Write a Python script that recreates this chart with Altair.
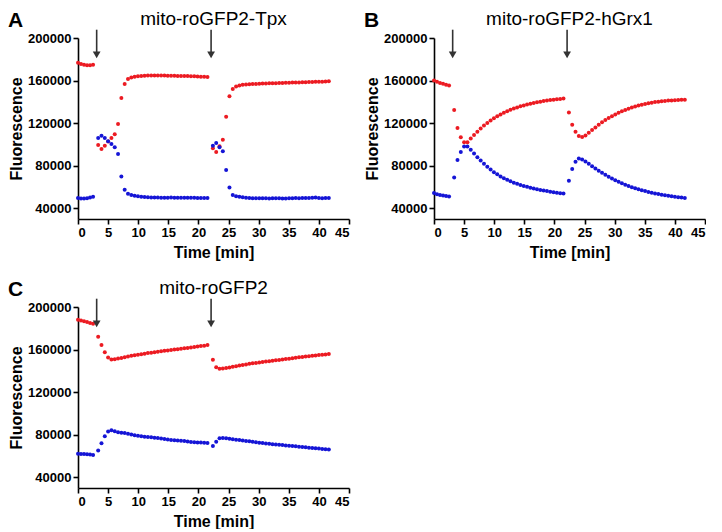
import altair as alt
import pandas as pd

# ---- sampling times (min) for the three recording segments ----
t_seg1 = [0.0, 0.5, 1.0, 1.5, 2.0, 2.5]
t_seg2 = [3.35, 3.9, 4.45, 5.0, 5.55, 6.1, 6.65, 7.2, 7.75, 8.3, 8.85, 9.4, 9.95, 10.5,
          11.05, 11.6, 12.15, 12.7, 13.25, 13.8, 14.35, 14.9, 15.45, 16.0, 16.55, 17.1,
          17.65, 18.2, 18.75, 19.3, 19.85, 20.4, 20.95, 21.5]
t_seg3 = [22.4, 22.95, 23.5, 24.05, 24.6, 25.15, 25.7, 26.25, 26.8, 27.35, 27.9, 28.45,
          29.0, 29.55, 30.1, 30.65, 31.2, 31.75, 32.3, 32.85, 33.4, 33.95, 34.5, 35.05,
          35.6, 36.15, 36.7, 37.25, 37.8, 38.35, 38.9, 39.45, 40.0, 40.55, 41.1, 41.65]
arrow_times = [3.1, 22.1]

# ---- Panel A: mito-roGFP2-Tpx ----
a_red = [176800, 175500, 174800, 174500, 174500, 174800,
         99600, 95800, 98900, 102900, 106000, 109700, 119200, 143600, 156800, 161400,
         162800, 163600, 164100, 164400, 164600, 164700, 164800, 164800, 164800, 164700,
         164700, 164600, 164600, 164500, 164400, 164400, 164300, 164200, 164100, 164000,
         163900, 163700, 163500, 163300,
         96500, 93000, 98300, 104400, 126000, 145400, 152200, 154500, 155500, 156000,
         156300, 156500, 156700, 156900, 157000, 157200, 157300, 157400, 157500, 157600,
         157700, 157800, 157900, 158000, 158100, 158200, 158300, 158400, 158500, 158600,
         158700, 158800, 158900, 159000, 159200, 159300]
a_blue = [49800, 49200, 49300, 49600, 50200, 51000,
          106000, 108200, 106000, 103000, 100400, 97300, 91100, 69900, 57500, 53600,
          52500, 51800, 51300, 51000, 50700, 50500, 50300, 50200, 50100, 50000,
          50000, 50000, 50100, 50000, 50000, 49900, 50000, 50000, 49900, 49900,
          49800, 49800, 49700, 49700,
          98900, 101300, 97500, 93600, 76000, 59700, 52600, 51400, 50800, 50400,
          50000, 49800, 49600, 49500, 49400, 49400, 49500, 49300, 49400, 49500,
          49400, 49300, 49300, 49500, 49600, 49700, 49600, 49700, 49800, 49700,
          49900, 50100, 49700, 49600, 49700, 49700]

# ---- Panel B: mito-roGFP2-hGrx1 ----
b_red = [160000, 158800, 157800, 157000, 156000, 155300,
         132400, 115400, 106700, 102000, 102000, 105500, 109000, 112000, 115000, 117800,
         120200, 122500, 124600, 126500, 128200, 129800, 131200, 132500, 133700, 134800,
         135800, 136700, 137500, 138300, 139000, 139600, 140200, 140800, 141300, 141700,
         142100, 142500, 142800, 143100,
         130000, 118500, 112000, 108000, 107000, 108500, 111000, 113500, 116000, 118500,
         120800, 122900, 124800, 126600, 128200, 129700, 131100, 132400, 133600, 134700,
         135700, 136600, 137400, 138100, 138700, 139300, 139800, 140200, 140600, 140900,
         141200, 141400, 141600, 141800, 142000, 142100]
b_blue = [54500, 53200, 52500, 52000, 51700, 51200,
          69000, 85300, 93000, 98000, 98000, 95000, 91500, 88000, 85000, 82000,
          79000, 76500, 74000, 72000, 70000, 68300, 66800, 65400, 64100, 63000,
          62000, 61100, 60200, 59400, 58700, 58000, 57300, 56700, 56200, 55700,
          55200, 54700, 54300, 53900,
          66000, 77000, 83700, 86800, 86000, 84000, 81800, 79600, 77500, 75400,
          73400, 71500, 69700, 68000, 66400, 64900, 63500, 62200, 61000, 59900,
          58900, 57900, 57000, 56200, 55400, 54700, 54000, 53400, 52800, 52300,
          51800, 51300, 50900, 50500, 50100, 49800]

# ---- Panel C: mito-roGFP2 ----
c_red = [188000, 187300, 186500, 185800, 185000, 184300,
         172000, 164300, 157400, 152500, 150800, 151000, 151600, 152200, 152800, 153500,
         154100, 154600, 155200, 155700, 156200, 156700, 157100, 157600, 158000, 158400,
         158800, 159200, 159600, 160000, 160400, 160800, 161200, 161600, 162000, 162400,
         162800, 163300, 163700, 164300,
         150500, 143500, 142000, 142200, 142700, 143200, 143800, 144400, 145000, 145600,
         146100, 146600, 147100, 147500, 147900, 148300, 148700, 149100, 149500, 149900,
         150300, 150700, 151100, 151500, 151900, 152300, 152700, 153000, 153400, 153800,
         154100, 154500, 154800, 155100, 155500, 155800]
c_blue = [62200, 62000, 61900, 61700, 61500, 61000,
          65200, 72000, 78500, 83000, 84200, 83200, 82300, 82000, 81600, 81000,
          80300, 79500, 79000, 78500, 78200, 77900, 77600, 77300, 76900, 76500,
          76000, 75500, 75100, 74900, 74700, 74400, 74100, 73700, 73300, 72900,
          72800, 72700, 72500, 72200,
          69500, 73500, 76800, 77000, 76700, 76300, 75900, 75400, 75000, 74600,
          74200, 73800, 73400, 73000, 72600, 72200, 71800, 71500, 71200, 70900,
          70600, 70300, 70000, 69700, 69400, 69100, 68800, 68500, 68200, 67900,
          67600, 67300, 67000, 66700, 66400, 66200]

x_ticks = [0, 5, 10, 15, 20, 25, 30, 35, 40, 45]
y_ticks = [40000, 80000, 120000, 160000, 200000]

RED = "#ec1b22"
BLUE = "#1515d6"
FONT = "Liberation Sans"
W, H = 271, 181

times = t_seg1 + t_seg2 + t_seg3


def xenc(field):
    return alt.X(field, type="quantitative",
                 scale=alt.Scale(domain=[0, 45], nice=False, zero=False),
                 axis=alt.Axis(values=x_ticks, title="Time [min]"))


def yenc(field):
    return alt.Y(field, type="quantitative",
                 scale=alt.Scale(domain=[30000, 200000], nice=False, zero=False),
                 axis=alt.Axis(values=y_ticks, format="d", title="Fluorescence"))


def panel(letter, title, red, blue):
    n = len(times)
    df = pd.DataFrame({"t": times + times, "v": red + blue,
                       "s": ["ox"] * n + ["red"] * n})
    pts = alt.Chart(df).mark_circle(size=16, opacity=1).encode(
        x=xenc("t"), y=yenc("v"),
        color=alt.Color("s:N", scale=alt.Scale(domain=["ox", "red"], range=[RED, BLUE]),
                        legend=None))
    adf = pd.DataFrame({"t": arrow_times, "top": [207800] * 2, "bot": [186000] * 2,
                        "tip": [184200] * 2})
    rule = alt.Chart(adf).mark_rule(color="#333333", strokeWidth=1.6).encode(
        x=xenc("t"), y=yenc("top"), y2="bot")
    head = alt.Chart(adf).mark_point(shape="triangle-down", filled=True, size=60,
                                     color="#333333", opacity=1).encode(
        x=xenc("t"), y=yenc("tip"))
    ttl = alt.Chart(pd.DataFrame({"l": [title]})).mark_text(
        font=FONT, fontSize=19, align="center", baseline="middle", color="black").encode(
        x=alt.value(W / 2), y=alt.value(-19), text="l:N")
    let = alt.Chart(pd.DataFrame({"l": [letter]})).mark_text(
        font=FONT, fontSize=21, fontWeight="bold", align="left", baseline="middle",
        color="black").encode(x=alt.value(-70), y=alt.value(-17), text="l:N")
    return alt.layer(pts, rule, head, ttl, let).properties(width=W, height=H)


A = panel("A", "mito-roGFP2-Tpx", a_red, a_blue)
B = panel("B", "mito-roGFP2-hGrx1", b_red, b_blue)
C = panel("C", "mito-roGFP2", c_red, c_blue)

chart = alt.vconcat(alt.hconcat(A, B, spacing=14), C, spacing=19).properties(
    padding={"left": 0, "top": 2, "right": 0, "bottom": 0}
).configure_view(stroke=None).configure_axis(
    grid=False, domainColor="black", domainWidth=1.6, tickColor="black", tickWidth=1.6,
    tickSize=5, labelFont=FONT, labelFontSize=13, labelFontWeight="bold",
    labelColor="black", labelPadding=2, titleFont=FONT, titleFontSize=16,
    titleFontWeight="bold", titleColor="black"
).configure_axisX(titlePadding=5).configure_axisY(titlePadding=3)

chart.save("out.html", embed_options={"renderer": "svg", "actions": False})
